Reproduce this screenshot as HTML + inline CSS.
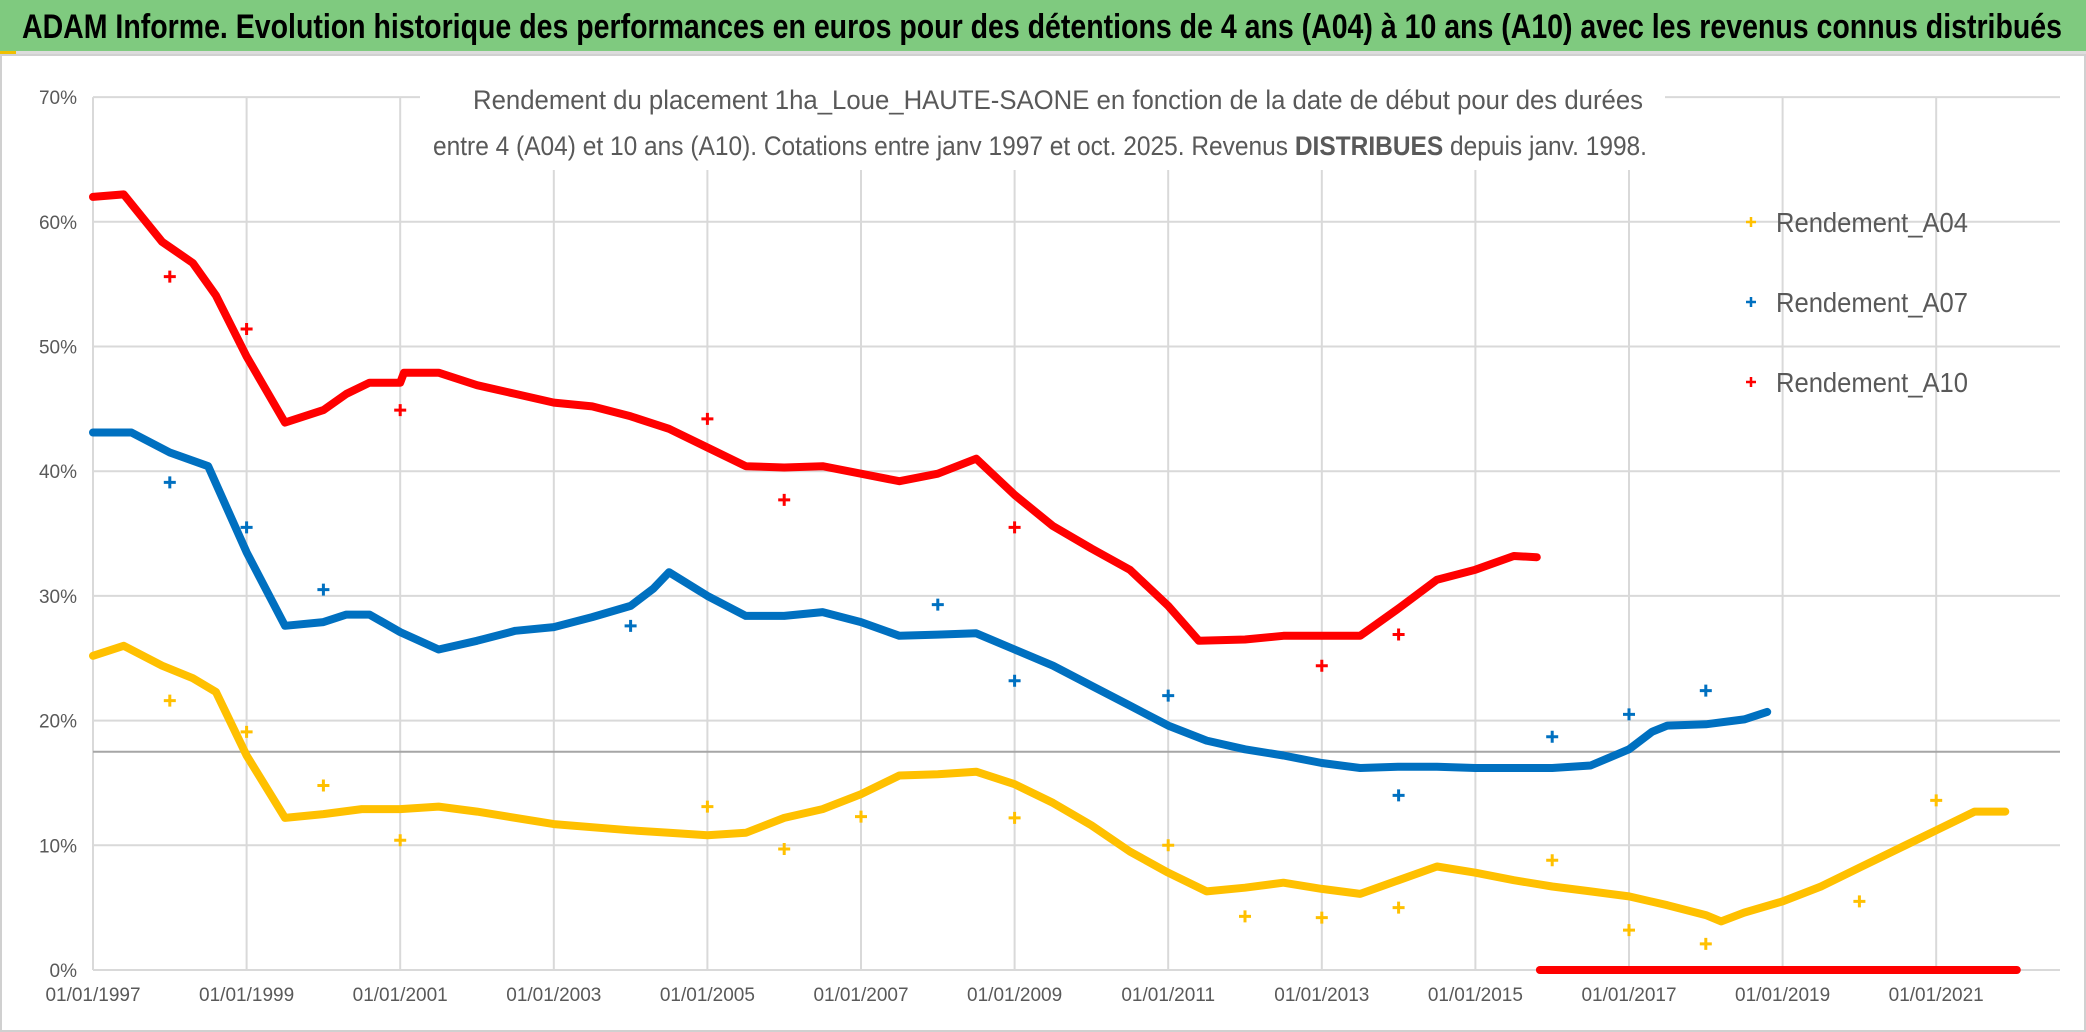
<!DOCTYPE html>
<html><head><meta charset="utf-8"><style>
html,body{margin:0;padding:0;background:#fff;}
svg{display:block;font-family:"Liberation Sans",sans-serif;}
</style></head><body>
<svg id="chart" width="2086" height="1032" viewBox="0 0 2086 1032" xmlns="http://www.w3.org/2000/svg">
<rect x="0" y="0" width="2086" height="1032" fill="#fff"/>
<rect x="0" y="0" width="2086" height="51" fill="#7fca7f"/>
<rect x="0" y="51" width="2086" height="4" fill="#dcdcdc"/>
<rect x="0" y="51" width="16" height="3" fill="#f0c000"/>
<text x="22" y="38" font-size="34" font-weight="bold" fill="#000" textLength="2040" lengthAdjust="spacingAndGlyphs">ADAM Informe. Evolution historique des performances en euros pour des détentions de 4 ans (A04) à 10 ans (A10) avec les revenus connus distribués</text>
<rect x="1" y="55" width="2084" height="976" fill="none" stroke="#d0d0d0" stroke-width="2"/>
<g id="grid"></g>
<g id="axes"></g>
<rect x="420" y="72" width="1245" height="98" fill="#fff"/>
<text x="1058" y="109" font-size="27" fill="#595959" text-anchor="middle" textLength="1170" lengthAdjust="spacingAndGlyphs">Rendement du placement 1ha_Loue_HAUTE-SAONE en fonction de la date de début pour des durées</text>
<text x="1040" y="155" font-size="27" fill="#595959" text-anchor="middle" textLength="1214" lengthAdjust="spacingAndGlyphs">entre 4 (A04) et 10 ans (A10). Cotations entre janv 1997 et oct. 2025. Revenus <tspan font-weight="bold">DISTRIBUES</tspan> depuis janv. 1998.</text>
<g id="series"></g>
<g id="legend"></g>
</svg>
<script>
const xTickYears=[1997,1999,2001,2003,2005,2007,2009,2011,2013,2015,2017,2019,2021];
const xTickLabels=["01/01/1997","01/01/1999","01/01/2001","01/01/2003","01/01/2005","01/01/2007","01/01/2009","01/01/2011","01/01/2013","01/01/2015","01/01/2017","01/01/2019","01/01/2021"];
const yTicks=[0,10,20,30,40,50,60,70];
const refLineValue=17.5;

const a04Years=[1997.0,1997.4,1997.9,1998.3,1998.6,1999.0,1999.5,2000.0,2000.5,2001.0,2001.5,2002.0,2003.0,2004.0,2004.5,2005.0,2005.5,2006.0,2006.5,2007.0,2007.5,2008.0,2008.5,2009.0,2009.5,2010.0,2010.5,2011.0,2011.5,2012.0,2012.5,2013.0,2013.5,2014.0,2014.5,2015.0,2015.5,2016.0,2016.5,2017.0,2017.5,2018.0,2018.2,2018.5,2019.0,2019.5,2020.0,2020.5,2021.0,2021.5,2021.9];
const a04Values=[25.2,26.0,24.4,23.4,22.3,17.2,12.2,12.5,12.9,12.9,13.1,12.7,11.7,11.2,11.0,10.8,11.0,12.2,12.9,14.1,15.6,15.7,15.9,14.9,13.4,11.6,9.5,7.8,6.3,6.6,7.0,6.5,6.1,7.2,8.3,7.8,7.2,6.7,6.3,5.9,5.2,4.4,3.9,4.6,5.5,6.7,8.2,9.7,11.2,12.7,12.7];
const a04MarkYears=[1998,1999,2000,2001,2005,2006,2007,2009,2011,2012,2013,2014,2016,2017,2018,2020,2021];
const a04MarkValues=[21.6,19.1,14.8,10.4,13.1,9.7,12.3,12.2,10.0,4.3,4.2,5.0,8.8,3.2,2.1,5.5,13.6];

const a07Years=[1997.0,1997.5,1998.0,1998.5,1999.0,1999.5,2000.0,2000.3,2000.6,2001.0,2001.5,2002.0,2002.5,2003.0,2003.5,2004.0,2004.3,2004.5,2005.0,2005.5,2006.0,2006.5,2007.0,2007.5,2008.0,2008.5,2009.0,2009.5,2010.0,2010.5,2011.0,2011.5,2012.0,2012.5,2013.0,2013.5,2014.0,2014.5,2015.0,2015.5,2016.0,2016.5,2017.0,2017.3,2017.5,2018.0,2018.5,2018.8];
const a07Values=[43.1,43.1,41.5,40.4,33.5,27.6,27.9,28.5,28.5,27.1,25.7,26.4,27.2,27.5,28.3,29.2,30.6,31.9,30.0,28.4,28.4,28.7,27.9,26.8,26.9,27.0,25.7,24.4,22.8,21.2,19.6,18.4,17.7,17.2,16.6,16.2,16.3,16.3,16.2,16.2,16.2,16.4,17.7,19.1,19.6,19.7,20.1,20.7];
const a07MarkYears=[1998,1999,2000,2004,2008,2009,2011,2014,2016,2017,2018];
const a07MarkValues=[39.1,35.5,30.5,27.6,29.3,23.2,22.0,14.0,18.7,20.5,22.4];

const a10Years=[1997.0,1997.4,1997.9,1998.3,1998.6,1999.0,1999.5,2000.0,2000.3,2000.6,2001.0,2001.05,2001.5,2002.0,2002.5,2003.0,2003.5,2004.0,2004.5,2005.0,2005.5,2006.0,2006.5,2007.0,2007.5,2008.0,2008.5,2009.0,2009.5,2010.0,2010.5,2011.0,2011.4,2012.0,2012.5,2013.0,2013.5,2014.0,2014.5,2015.0,2015.5,2015.8];
const a10Values=[62.0,62.2,58.4,56.7,54.1,49.2,43.9,44.9,46.2,47.1,47.1,47.9,47.9,46.9,46.2,45.5,45.2,44.4,43.4,41.9,40.4,40.3,40.4,39.8,39.2,39.8,41.0,38.1,35.6,33.8,32.1,29.2,26.4,26.5,26.8,26.8,26.8,29.0,31.3,32.1,33.2,33.1];
const a10MarkYears=[1998,1999,2001,2005,2006,2009,2013,2014];
const a10MarkValues=[55.6,51.4,44.9,44.2,37.7,35.5,24.4,26.9];
const a10ZeroYears=[2015.84,2022.05];
const a10ZeroValues=[0,0];

const NS="http://www.w3.org/2000/svg";
const X0=93,PXY=76.8,Y0=970,PXV=12.47,XR=2060;
function xs(y){return X0+(y-1997)*PXY;}
function ys(v){return Y0-v*PXV;}
function mk(tag,attrs,parent){const e=document.createElementNS(NS,tag);for(const k in attrs)e.setAttribute(k,attrs[k]);parent.appendChild(e);return e;}

const grid=document.getElementById('grid'),axes=document.getElementById('axes');
yTicks.forEach(v=>{
  const l=mk('line',{x1:X0,x2:XR,y1:ys(v),y2:ys(v),stroke:'#d9d9d9','stroke-width':2},grid);
  
  
  const t=mk('text',{x:X0-16,y:ys(v)+7,'font-size':19,fill:'#595959','text-anchor':'end'},axes);
  t.textContent=v+'%';
  
  
});
xTickYears.forEach((yr,i)=>{
  const l=mk('line',{x1:xs(yr),x2:xs(yr),y1:ys(70),y2:Y0,stroke:'#d9d9d9','stroke-width':2},grid);
  
  
  const t=mk('text',{x:xs(yr),y:Y0+31,'font-size':19,fill:'#595959','text-anchor':'middle'},axes);
  t.textContent=xTickLabels[i];
  
  
});
const rl=mk('line',{x1:X0,x2:XR,y1:ys(refLineValue),y2:ys(refLineValue),stroke:'#a6a6a6','stroke-width':2},grid);



const ser=document.getElementById('series');
function drawLine(years,vals,color,name){
  const pts=years.map((y,i)=>xs(y).toFixed(1)+','+ys(vals[i]).toFixed(1)).join(' ');
  const p=mk('polyline',{points:pts,fill:'none',stroke:color,'stroke-width':8,'stroke-linejoin':'round','stroke-linecap':'round'},ser);
  
  
}
function drawMarks(years,vals,color,name){
  years.forEach((y,i)=>{
    const cx=xs(y),cy=ys(vals[i]);
    const p=mk('path',{d:`M${cx-6},${cy}H${cx+6}M${cx},${cy-6}V${cy+6}`,stroke:color,'stroke-width':3,fill:'none'},ser);
    
    
  });
}
drawLine(a04Years,a04Values,'#ffc000','line-rendement-a04');
drawLine(a07Years,a07Values,'#0070c0','line-rendement-a07');
drawLine(a10Years,a10Values,'#ff0000','line-rendement-a10');
drawLine(a10ZeroYears,a10ZeroValues,'#ff0000','line-rendement-a10-zero');
drawMarks(a04MarkYears,a04MarkValues,'#ffc000','marker-a04');
drawMarks(a07MarkYears,a07MarkValues,'#0070c0','marker-a07');
drawMarks(a10MarkYears,a10MarkValues,'#ff0000','marker-a10');

const legendNames=['Rendement_A04','Rendement_A07','Rendement_A10'];
const legendColors=['#ffc000','#0070c0','#ff0000'];
const leg=document.getElementById('legend');
legendNames.forEach((n,i)=>{
  const cy=222+i*80;
  const g=mk('g',{},leg);
  
  
  mk('path',{d:`M1746,${cy}H1756M1751,${cy-5}V${cy+5}`,stroke:legendColors[i],'stroke-width':2.5},g);
  const t=mk('text',{x:1776,y:cy+10,'font-size':28,fill:'#595959',textLength:192,lengthAdjust:'spacingAndGlyphs'},g);
  t.textContent=n;
});
</script>
</body></html>
